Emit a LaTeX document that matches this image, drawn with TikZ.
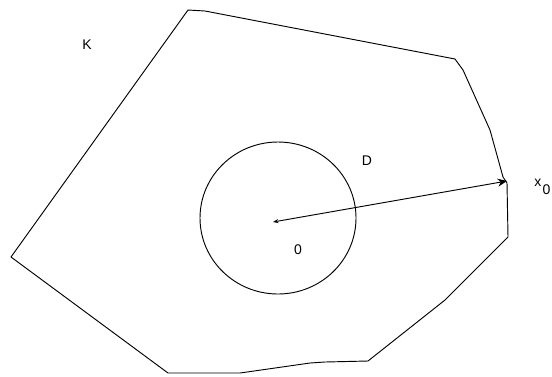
\documentclass[tikz,border=0pt]{standalone}
\usepackage{fontspec}
\setmainfont{Liberation Sans}
\usetikzlibrary{arrows.meta}
\tikzset{
  edge/.style={line width=0.7pt, black, line join=round},
  lbl/.style={font=\fontsize{10.5}{12}\selectfont, inner sep=0pt},
}
\begin{document}
\begin{tikzpicture}[x=0.75pt, y=-0.75pt]
\useasboundingbox (0,0) rectangle (552,376);
% polygon K
\draw[edge] (188,10) -- (205,11) -- (455,59) -- (463,70) -- (490,130) -- (503,177)
  -- (507,183) -- (508,237) -- (445,300) -- (368,361) -- (325,362) -- (310,363)
  -- (240,373) -- (168,373) -- (11,257) -- cycle;
% circle D
\coordinate (C) at (278,218);
\draw[edge] (C) circle[x radius=78, y radius=76];
% points
\coordinate (O) at (273,222);
\coordinate (X0) at (507,181);
\draw[edge, {Stealth[length=4pt,width=3pt]}-{Stealth[length=7pt,width=6pt]}] (O) -- (X0);
% labels
\node[lbl] (K) at (87,45) {K};
\node[lbl] (D) at (367,161) {D};
\node[lbl] (Z) at (298,250) {0};
\node[lbl, anchor=west] (x0) at (534,187) {x\kern1pt\raisebox{-6pt}{0}};
\end{tikzpicture}
\end{document}
